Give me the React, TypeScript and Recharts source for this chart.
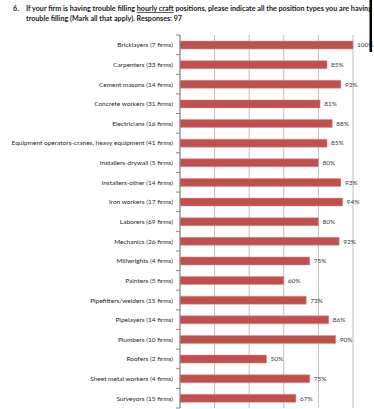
import React from "react";
import { BarChart, Bar, XAxis, YAxis, CartesianGrid, LabelList } from "recharts";

const categories = [
  "Bricklayers  (7 firms)",
  "Carpenters  (33 firms)",
  "Cement masons (14 firms)",
  "Concrete workers  (31 firms)",
  "Electricians (16 firms)",
  "Equipment operators-cranes, heavy equipment (41 firms)",
  "Installers-drywall (5 firms)",
  "Installers-other (14 firms)",
  "Iron workers (17 firms)",
  "Laborers (69 firms)",
  "Mechanics (26 firms)",
  "Millwrights (4 firms)",
  "Painters (5 firms)",
  "Pipefitters/welders (15 firms)",
  "Pipelayers (14 firms)",
  "Plumbers (10 firms)",
  "Roofers (2 firms)",
  "Sheet metal workers (4 firms)",
  "Surveyors (15 firms)",
];
const percents = [100, 85, 93, 81, 88, 85, 80, 93, 94, 80, 92, 75, 60, 73, 86, 90, 50, 75, 67];
const xTicks = [0, 10, 20, 30, 40, 50, 60, 70, 80, 90, 100];

const data = categories.map((name, i) => ({ name, value: percents[i] }));

const W = 374;
const H = 409;
const M = { top: 35, right: 21, bottom: 1, left: 0 };
const BAND = (H - M.top - M.bottom) / categories.length;
const FONT = "Lato, 'Liberation Sans', sans-serif";

const LabelTick = (props: any) => {
  const { x, y, payload, index } = props;
  const last = index === categories.length - 1;
  return (
    <g>
      <text x={x - 7} y={y} textAnchor="end" dominantBaseline="central" fontSize={6.5} fill="#1f1f1f" fontFamily={FONT}>
        {payload.value}
      </text>
      <line x1={x - 4} x2={x} y1={y - BAND / 2} y2={y - BAND / 2} stroke="#868686" strokeWidth={1} />
      {last && <line x1={x - 4} x2={x} y1={y + BAND / 2} y2={y + BAND / 2} stroke="#868686" strokeWidth={1} />}
    </g>
  );
};

export default function App() {
  return (
    <div style={{ position: "absolute", left: 0, top: 0, width: W, height: H, background: "#fff" }}>
      <BarChart width={W} height={H} data={data} layout="vertical" margin={M} barCategoryGap={0}>
        <CartesianGrid horizontal={false} stroke="#bfbfbf" strokeWidth={1} />
        <XAxis type="number" domain={[0, 100]} ticks={xTicks} hide />
        <YAxis
          type="category"
          dataKey="name"
          width={180}
          tickSize={0}
          tickMargin={0}
          tickLine={false}
          axisLine={{ stroke: "#868686" }}
          tick={<LabelTick />}
          interval={0}
        />
        <Bar dataKey="value" fill="#C0504D" stroke="#D99694" strokeWidth={0.5} barSize={8} isAnimationActive={false}>
          <LabelList
            dataKey="value"
            position="right"
            offset={4}
            formatter={(v: any) => `${v}%`}
            style={{ fontSize: 6.5, fill: "#3a3a3a", fontFamily: FONT }}
          />
        </Bar>
      </BarChart>
      <svg width={W} height={H} style={{ position: "absolute", left: 0, top: 0, pointerEvents: "none" }}>
        <g fontFamily={FONT} fontWeight="bold" fontSize={7.2} fill="#1a1a1a">
          <text x={13} y={11}>6.</text>
          <text x={26} y={11} textLength={346} lengthAdjust="spacingAndGlyphs">
            If your firm is having trouble filling <tspan textDecoration="underline">hourly craft</tspan> positions, please indicate all the position types you are having
          </text>
          <text x={26} y={20.5} textLength={156} lengthAdjust="spacingAndGlyphs">
            trouble filling (Mark all that apply). Responses: 97
          </text>
        </g>
        <rect x={369.5} y={0} width={2.5} height={52} fill="#000" />
      </svg>
    </div>
  );
}
